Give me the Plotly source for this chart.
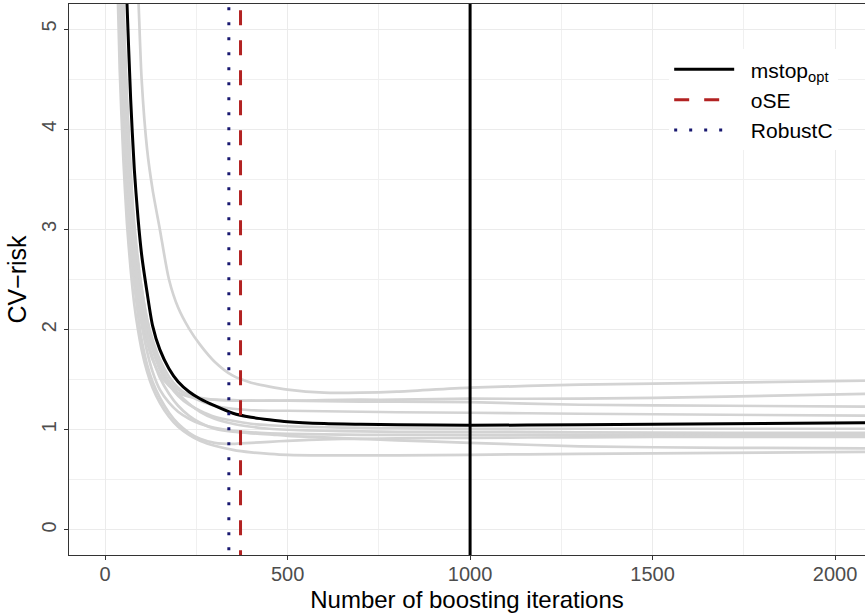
import plotly.graph_objects as go

iterations = [30, 40, 50, 60, 70, 80, 90, 100, 115, 130, 150, 175, 200, 230, 260,
              300, 350, 400, 450, 500, 600, 700, 800, 1000, 1300, 1700, 2100]

# Per-fold CV-risk curves (grey)
fold_1 = [14.0, 11.0, 9.0, 7.8, 6.8, 6.0, 5.4, 4.5, 3.8, 3.4, 3.0, 2.5, 2.22, 2.01, 1.85,
          1.68, 1.54, 1.47, 1.43, 1.40, 1.37, 1.37, 1.38, 1.42, 1.45, 1.47, 1.49]
fold_2 = [9.0, 6.8, 5.3, 4.3, 3.6, 2.95, 2.65, 2.4, 2.05, 1.82, 1.62, 1.48, 1.40, 1.35, 1.32,
          1.30, 1.29, 1.29, 1.29, 1.29, 1.295, 1.30, 1.30, 1.31, 1.31, 1.33, 1.36]
fold_3 = [8.0, 5.4, 4.3, 3.6, 3.1, 2.7, 2.4, 2.15, 1.88, 1.70, 1.55, 1.44, 1.37, 1.33, 1.31,
          1.30, 1.295, 1.29, 1.29, 1.29, 1.285, 1.28, 1.28, 1.275, 1.25, 1.24, 1.23]
fold_4 = [8.5, 6.5, 5.1, 4.2, 3.5, 3.0, 2.65, 2.4, 2.1, 1.9, 1.7, 1.53, 1.42, 1.34, 1.29,
          1.24, 1.21, 1.195, 1.19, 1.19, 1.185, 1.18, 1.175, 1.17, 1.16, 1.15, 1.14]
fold_5 = [8.0, 6.0, 4.9, 4.0, 3.35, 2.9, 2.55, 2.3, 2.0, 1.8, 1.6, 1.45, 1.34, 1.25, 1.19,
          1.13, 1.09, 1.06, 1.045, 1.035, 1.025, 1.02, 1.015, 1.01, 1.01, 1.01, 1.01]
fold_6 = [7.0, 5.2, 4.2, 3.5, 3.0, 2.6, 2.3, 2.05, 1.78, 1.58, 1.40, 1.27, 1.18, 1.11, 1.06,
          1.02, 0.99, 0.975, 0.965, 0.96, 0.955, 0.95, 0.95, 0.95, 0.95, 0.95, 0.95]
fold_7 = [6.5, 5.0, 4.0, 3.3, 2.8, 2.45, 2.15, 1.9, 1.65, 1.48, 1.32, 1.17, 1.06, 0.97, 0.91,
          0.87, 0.86, 0.87, 0.88, 0.89, 0.905, 0.91, 0.915, 0.92, 0.925, 0.93, 0.93]
fold_8 = [7.5, 5.5, 4.4, 3.7, 3.15, 2.75, 2.45, 2.2, 1.92, 1.72, 1.52, 1.36, 1.24, 1.14, 1.07,
          1.01, 0.98, 0.965, 0.955, 0.94, 0.925, 0.91, 0.895, 0.87, 0.835, 0.82, 0.815]
fold_9 = [6.0, 4.6, 3.7, 3.05, 2.6, 2.25, 2.0, 1.8, 1.58, 1.42, 1.27, 1.13, 1.03, 0.95, 0.89,
          0.84, 0.80, 0.775, 0.76, 0.75, 0.745, 0.745, 0.745, 0.75, 0.76, 0.77, 0.78]
fold_10 = [9.0, 6.6, 5.2, 4.25, 3.55, 3.05, 2.7, 2.42, 2.1, 1.87, 1.66, 1.48, 1.36, 1.26, 1.18,
           1.11, 1.06, 1.03, 1.01, 1.0, 0.99, 0.985, 0.98, 0.98, 0.975, 0.97, 0.97]
folds = [fold_1, fold_2, fold_3, fold_4, fold_5, fold_6, fold_7, fold_8, fold_9, fold_10]

# Mean CV-risk curve (black)
mean_risk = [9.5, 7.5, 6.2, 5.25, 4.3, 3.6, 3.12, 2.75, 2.37, 2.04, 1.80, 1.61, 1.48, 1.38, 1.31,
             1.24, 1.165, 1.125, 1.10, 1.08, 1.062, 1.055, 1.05, 1.045, 1.05, 1.06, 1.07]

# Stopping iterations
stop_names = ["mstop<sub>opt</sub>", "oSE", "RobustC"]
stop_values = [1000, 371, 339]
stop_colors = ["#000000", "#B22222", "#191970"]
stop_dashes = ["solid", "15px,15px", "3px,12px"]

x_ticks = [0, 500, 1000, 1500, 2000]
y_ticks = [0, 1, 2, 3, 4, 5]

y_lo, y_hi = -0.25, 5.25

FONT = "Liberation Sans, Arial, sans-serif"
PAD = "\u00a0\u00a0"

fig = go.Figure()

for f in folds:
    fig.add_trace(go.Scatter(x=iterations, y=f, mode="lines",
                             line=dict(color="#D3D3D3", width=2.7, shape="spline", smoothing=0.7),
                             showlegend=False, hoverinfo="skip"))

fig.add_trace(go.Scatter(x=iterations, y=mean_risk, mode="lines",
                         line=dict(color="#000000", width=3, shape="spline", smoothing=0.7),
                         showlegend=False))

for name, v, c, d in zip(stop_names, stop_values, stop_colors, stop_dashes):
    fig.add_trace(go.Scatter(x=[v, v], y=[y_lo - 1, y_hi + 1], mode="lines",
                             name=PAD + name, line=dict(color=c, width=3, dash=d)))

axis_common = dict(
    showline=True, linecolor="#333333", linewidth=1.2,
    ticks="outside", ticklen=4, tickcolor="#333333", tickwidth=1.1,
    showgrid=True, gridcolor="#EBEBEB", gridwidth=1.4,
    zeroline=False,
    tickfont=dict(family=FONT, size=20, color="#4D4D4D"),
    title_font=dict(family=FONT, size=24, color="#000000"),
)

fig.update_layout(
    width=865, height=613,
    margin=dict(l=69, r=0, t=4, b=58, autoexpand=False),
    paper_bgcolor="white", plot_bgcolor="white",
    font=dict(family=FONT),
    xaxis=dict(**axis_common, range=[-98.95, 2082], tickvals=x_ticks,
               mirror=True, ticklabelstandoff=-3,
               minor=dict(dtick=250, tick0=0, showgrid=True, gridcolor="#F0F0F0",
                          gridwidth=0.9, ticks=""),
               title=dict(text="Number of boosting iterations", standoff=8)),
    yaxis=dict(**axis_common, range=[y_lo, y_hi], tickvals=y_ticks, tickangle=-90,
               minor=dict(dtick=0.5, tick0=0, showgrid=True, gridcolor="#F0F0F0",
                          gridwidth=0.9, ticks=""),
               title=dict(text="CV\u2212risk", standoff=4, font=dict(size=25))),
    legend=dict(x=0.754, y=0.918, xanchor="left", yanchor="top",
                bgcolor="white", borderwidth=0,
                font=dict(family=FONT, size=21, color="#000000"),
                itemwidth=60, tracegroupgap=0),
)

fig.write_html("out.html", config={"displayModeBar": False},
               post_script="document.body.style.margin='0';")
